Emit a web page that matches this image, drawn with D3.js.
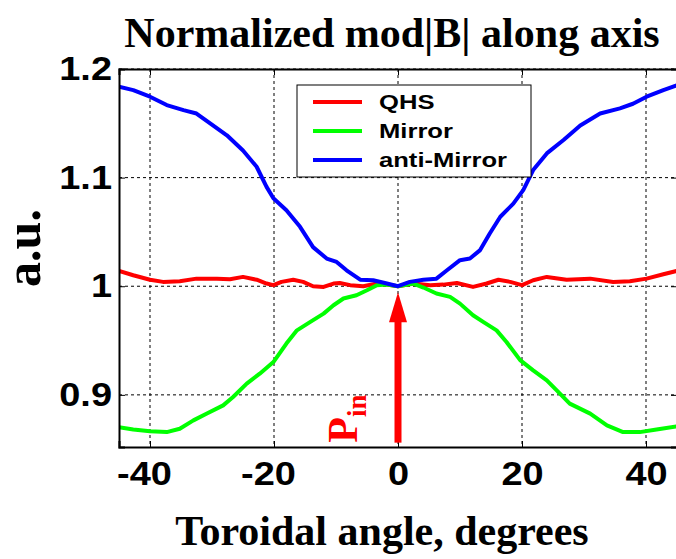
<!DOCTYPE html>
<html>
<head>
<meta charset="utf-8">
<script src="https://cdn.jsdelivr.net/npm/d3@7"></script>
<style>
  body { margin: 0; background: #fff; }
  svg { display: block; }
  .tick-label { font-family: "Liberation Sans", Arial, sans-serif; font-weight: bold; font-size: 33px; fill: #000; }
  .serif { font-family: "Liberation Serif", "Times New Roman", serif; font-weight: bold; }
  .grid line { stroke: #000; stroke-width: 1; stroke-dasharray: 3,3; }
</style>
</head>
<body>
<script>
// tick labels
const xTicks = [-40, -20, 0, 20, 40];
const yTicks = [0.9, 1.0, 1.1, 1.2];

// QHS (red)
const qhsAngle = [-45, -42.7, -40, -37.9, -35.2, -32.5, -29.2, -27.1, -25, -22.8, -21.2, -20.1, -18.8, -16.9, -15.3, -13.7, -12, -10.4, -9.4, -7.7, -5.6, -3.4, -1.8, 0,
  2.5, 5.2, 7.3, 9.5, 12.1, 14.3, 16.2, 18.1, 20, 21.8, 24, 27.2, 31, 34.7, 37.4, 40.1, 42.8, 45];
const qhsValue = [1.0141, 1.0101, 1.006, 1.004, 1.0046, 1.007, 1.007, 1.0065, 1.0086, 1.006, 1.0025, 1.001, 1.004, 1.006, 1.004, 1.0, 0.9994, 1.0025, 1.003, 1.001, 1.0, 1.0025, 1.0015, 1.0,
  1.0025, 1.001, 1.0015, 1.003, 0.9994, 1.0025, 1.006, 1.004, 1.001, 1.0055, 1.0086, 1.006, 1.007, 1.004, 1.0046, 1.007, 1.011, 1.0141];

// Mirror (green)
const mirrorAngle = [-45, -42.7, -40, -37.3, -35.2, -33, -30.9, -28.2, -26.6, -24.4, -22.3, -20.1, -18, -16.3, -14.2, -12, -10.4, -8.8, -6.7, -5, -3.4, -1.8, 0,
  2.5, 4.1, 6.2, 8.4, 10, 12.1, 13.8, 15.9, 17.5, 19.7, 21.8, 24, 25.6, 27.7, 31, 33.7, 36.3, 39, 41.7, 45];
const mirrorValue = [0.8703, 0.8682, 0.8664, 0.8657, 0.8688, 0.8765, 0.8827, 0.8903, 0.898, 0.9103, 0.9195, 0.9302, 0.9472, 0.9594, 0.967, 0.9748, 0.9825, 0.9887, 0.9917, 0.9963, 1.001, 1.0015, 1.0,
  1.0025, 0.9988, 0.9933, 0.9902, 0.984, 0.9733, 0.967, 0.9594, 0.9487, 0.932, 0.9226, 0.9134, 0.9041, 0.8919, 0.8827, 0.8719, 0.8657, 0.8657, 0.8682, 0.871];

// anti-Mirror (blue)
const antiAngle = [-45, -42.7, -40, -37.3, -34.6, -32.5, -30.3, -27.6, -25, -22.8, -21.2, -20.1, -18, -15.8, -13.7, -11.5, -9.9, -8.3, -6.1, -4, -1.8, 0,
  1.9, 4.1, 6.2, 7.9, 10, 11.6, 13.2, 14.8, 16.5, 18.6, 20.2, 21.8, 24, 26.7, 29.4, 32.6, 35.8, 37.9, 40.1, 42.8, 45];
const antiValue = [1.1837, 1.1806, 1.1745, 1.1668, 1.1622, 1.159, 1.150, 1.139, 1.125, 1.110, 1.0915, 1.081, 1.070, 1.0547, 1.036, 1.0255, 1.0224, 1.0147, 1.006, 1.0055, 1.0025, 1.0,
  1.004, 1.006, 1.007, 1.0147, 1.024, 1.0255, 1.033, 1.0486, 1.064, 1.076, 1.0885, 1.107, 1.1223, 1.1346, 1.148, 1.159, 1.1638, 1.168, 1.1745, 1.1806, 1.185];

const seriesNames = ["QHS", "Mirror", "anti-Mirror"];
const seriesColors = ["#ff0000", "#00ff00", "#0000ff"];

// P_in arrow (angle, from value, to value)
const arrowAngle = 0;
const arrowFrom = 0.856;
const arrowTo = 0.9945;

const width = 676;
const height = 559;
const plot = { left: 119, right: 677, top: 69, bottom: 447 };

const svg = d3.select("body").append("svg").attr("width", width).attr("height", height);
svg.append("rect").attr("width", width).attr("height", height).attr("fill", "#fff");

const x = d3.scaleLinear().domain([-45, 45]).range([plot.left, plot.right]);
const y = d3.scaleLinear().domain([0.852, 1.2]).range([plot.bottom, plot.top]);

// dotted grid
const grid = svg.append("g").attr("class", "grid");
grid.selectAll(".gx").data(xTicks).enter().append("line")
  .attr("x1", d => x(d)).attr("x2", d => x(d))
  .attr("y1", plot.top).attr("y2", plot.bottom);
grid.selectAll(".gy").data(yTicks).enter().append("line")
  .attr("x1", plot.left).attr("x2", plot.right)
  .attr("y1", d => y(d)).attr("y2", d => y(d));

// curves
svg.append("clipPath").attr("id", "clip").append("rect")
  .attr("x", plot.left).attr("y", plot.top)
  .attr("width", plot.right - plot.left).attr("height", plot.bottom - plot.top);

const series = [
  qhsAngle.map((a, i) => [a, qhsValue[i]]),
  mirrorAngle.map((a, i) => [a, mirrorValue[i]]),
  antiAngle.map((a, i) => [a, antiValue[i]])
];
const line = d3.line().x(d => x(d[0])).y(d => y(d[1]));

svg.append("g").attr("clip-path", "url(#clip)")
  .selectAll("path").data(series).enter().append("path")
  .attr("fill", "none")
  .attr("stroke", (d, i) => seriesColors[i])
  .attr("stroke-width", 4)
  .attr("stroke-linejoin", "round")
  .attr("d", line);

// axes: inward ticks on all sides, labels left and bottom
const axisB = svg.append("g")
  .attr("transform", "translate(0," + plot.bottom + ")")
  .call(d3.axisBottom(x).tickValues(xTicks).tickSize(-6).tickPadding(15).tickFormat(d => d));
const axisL = svg.append("g")
  .attr("transform", "translate(" + plot.left + ",0)")
  .call(d3.axisLeft(y).tickValues(yTicks).tickSize(-6).tickPadding(7).tickFormat(d => d));
svg.append("g")
  .attr("transform", "translate(0," + plot.top + ")")
  .call(d3.axisTop(x).tickValues(xTicks).tickSize(-6).tickFormat(""));
svg.append("g")
  .attr("transform", "translate(" + plot.right + ",0)")
  .call(d3.axisRight(y).tickValues(yTicks).tickSize(-6).tickFormat(""));

svg.selectAll(".domain").attr("stroke", "#000").attr("stroke-width", 2);
svg.selectAll(".tick line").attr("stroke", "#000").attr("stroke-width", 1);

axisB.selectAll("text").attr("class", "tick-label")
  .attr("dx", d => d < 0 ? -6 : 0)
  .style("transform-box", "fill-box").style("transform-origin", "center")
  .style("transform", "scaleX(1.15)");
axisL.selectAll("text").attr("class", "tick-label")
  .style("transform-box", "fill-box").style("transform-origin", "right center")
  .style("transform", "scaleX(1.15)");
svg.selectAll(".tick text").attr("font-size", null).attr("font-family", null);

// P_in arrow
const ax = x(arrowAngle), ay0 = y(arrowFrom), ay1 = y(arrowTo);
svg.append("line")
  .attr("x1", ax).attr("x2", ax)
  .attr("y1", ay0).attr("y2", ay1 + 28)
  .attr("stroke", "#ff0000").attr("stroke-width", 7);
svg.append("path")
  .attr("d", `M${ax},${ay1} L${ax - 9},${ay1 + 30} L${ax + 9},${ay1 + 30} Z`)
  .attr("fill", "#ff0000");

const pin = svg.append("text").attr("class", "serif")
  .attr("transform", `translate(${x(-6.6)},${y(arrowFrom)}) rotate(-90)`)
  .attr("fill", "#ff0000");
pin.append("tspan").attr("font-size", 42).text("P");
pin.append("tspan").attr("font-size", 27).attr("dy", 9).text("in");

// legend
const legend = svg.append("g").attr("transform", "translate(297,85)");
legend.append("rect").attr("width", 234).attr("height", 92)
  .attr("fill", "#fff").attr("stroke", "#000").attr("stroke-width", 1);
const items = legend.selectAll(".item").data(seriesNames).enter().append("g")
  .attr("transform", (d, i) => "translate(0," + (17 + i * 29) + ")");
items.append("line").attr("x1", 16).attr("x2", 65)
  .attr("stroke", (d, i) => seriesColors[i]).attr("stroke-width", 4);
items.append("text").attr("x", 82).attr("y", 7)
  .attr("font-family", "'Liberation Sans', Arial, sans-serif")
  .attr("font-weight", "bold").attr("font-size", 21)
  .style("transform-box", "fill-box").style("transform-origin", "left center")
  .style("transform", "scaleX(1.22)")
  .text(d => d);

// titles
svg.append("text").attr("class", "serif")
  .attr("x", 392).attr("y", 47).attr("text-anchor", "middle")
  .attr("font-size", 42).text("Normalized mod|B| along axis");
svg.append("text").attr("class", "serif")
  .attr("x", 382).attr("y", 545).attr("text-anchor", "middle")
  .attr("font-size", 42).text("Toroidal angle, degrees");
svg.append("text").attr("class", "serif")
  .attr("transform", "translate(40,248) rotate(-90)").attr("text-anchor", "middle")
  .attr("font-size", 50).text("a.u.");
</script>
</body>
</html>
